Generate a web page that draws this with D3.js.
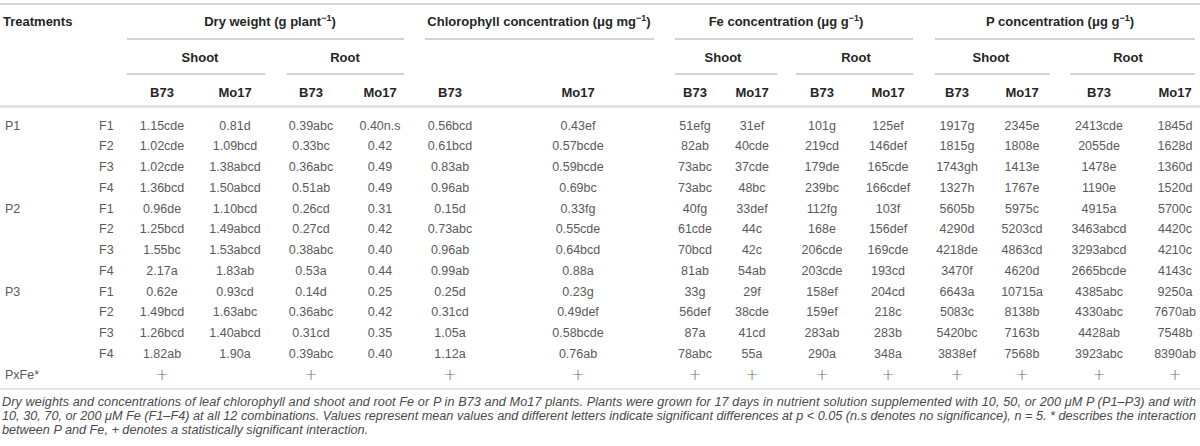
<!DOCTYPE html>
<html>
<head>
<meta charset="utf-8">
<script src="https://cdn.jsdelivr.net/npm/d3@7"></script>
<style>
  html, body { margin: 0; padding: 0; background: #fff; }
  svg { display: block; }
</style>
</head>
<body>
<svg id="chart" width="1200" height="446"></svg>
<script>
// ---------------- DATA ----------------
const pLevels = ["P1", "", "", "", "P2", "", "", "", "P3", "", "", ""];
const fLevels = ["F1", "F2", "F3", "F4", "F1", "F2", "F3", "F4", "F1", "F2", "F3", "F4"];

const dwShootB73 = ["1.15cde","1.02cde","1.02cde","1.36bcd","0.96de","1.25bcd","1.55bc","2.17a","0.62e","1.49bcd","1.26bcd","1.82ab"];
const dwShootMo17 = ["0.81d","1.09bcd","1.38abcd","1.50abcd","1.10bcd","1.49abcd","1.53abcd","1.83ab","0.93cd","1.63abc","1.40abcd","1.90a"];
const dwRootB73 = ["0.39abc","0.33bc","0.36abc","0.51ab","0.26cd","0.27cd","0.38abc","0.53a","0.14d","0.36abc","0.31cd","0.39abc"];
const dwRootMo17 = ["0.40n.s","0.42","0.49","0.49","0.31","0.42","0.40","0.44","0.25","0.42","0.35","0.40"];
const chlB73 = ["0.56bcd","0.61bcd","0.83ab","0.96ab","0.15d","0.73abc","0.96ab","0.99ab","0.25d","0.31cd","1.05a","1.12a"];
const chlMo17 = ["0.43ef","0.57bcde","0.59bcde","0.69bc","0.33fg","0.55cde","0.64bcd","0.88a","0.23g","0.49def","0.58bcde","0.76ab"];
const feShootB73 = ["51efg","82ab","73abc","73abc","40fg","61cde","70bcd","81ab","33g","56def","87a","78abc"];
const feShootMo17 = ["31ef","40cde","37cde","48bc","33def","44c","42c","54ab","29f","38cde","41cd","55a"];
const feRootB73 = ["101g","219cd","179de","239bc","112fg","168e","206cde","203cde","158ef","159ef","283ab","290a"];
const feRootMo17 = ["125ef","146def","165cde","166cdef","103f","156def","169cde","193cd","204cd","218c","283b","348a"];
const pShootB73 = ["1917g","1815g","1743gh","1327h","5605b","4290d","4218de","3470f","6643a","5083c","5420bc","3838ef"];
const pShootMo17 = ["2345e","1808e","1413e","1767e","5975c","5203cd","4863cd","4620d","10715a","8138b","7163b","7568b"];
const pRootB73 = ["2413cde","2055de","1478e","1190e","4915a","3463abcd","3293abcd","2665bcde","4385abc","4330abc","4428ab","3923abc"];
const pRootMo17 = ["1845d","1628d","1360d","1520d","5700c","4420c","4210c","4143c","9250a","7670ab","7548b","8390ab"];

const interactionRow = ["+", "", "+", "", "+", "+", "+", "+", "+", "+", "+", "+", "+", "+"];

const columnKeys = ["dwSB","dwSM","dwRB","dwRM","chlB","chlM","feSB","feSM","feRB","feRM","pSB","pSM","pRB","pRM"];
const genotypeLabels = ["B73","Mo17","B73","Mo17","B73","Mo17","B73","Mo17","B73","Mo17","B73","Mo17","B73","Mo17"];
const columns = [dwShootB73, dwShootMo17, dwRootB73, dwRootMo17, chlB73, chlMo17,
                 feShootB73, feShootMo17, feRootB73, feRootMo17, pShootB73, pShootMo17, pRootB73, pRootMo17];

const groupTitles = [
  {key:"dw", text:"Dry weight (g plant", sup:"−1", after:")"},
  {key:"chl", text:"Chlorophyll concentration (μg mg", sup:"−1", after:")"},
  {key:"fe", text:"Fe concentration (μg g", sup:"−1", after:")"},
  {key:"p", text:"P concentration (μg g", sup:"−1", after:")"}
];
const organTitles = [
  {key:"dwS", text:"Shoot"}, {key:"dwR", text:"Root"},
  {key:"feS", text:"Shoot"}, {key:"feR", text:"Root"},
  {key:"pS", text:"Shoot"}, {key:"pR", text:"Root"}
];
const captionLines = [
  "Dry weights and concentrations of leaf chlorophyll and shoot and root Fe or P in B73 and Mo17 plants. Plants were grown for 17 days in nutrient solution supplemented with 10, 50, or 200 μM P (P1–P3) and with",
  "10, 30, 70, or 200 μM Fe (F1–F4) at all 12 combinations. Values represent mean values and different letters indicate significant differences at p < 0.05 (n.s denotes no significance), n = 5. * describes the interaction",
  "between P and Fe, + denotes a statistically significant interaction."
];

// ---------------- LAYOUT ----------------
const colCenters = [162, 235, 311, 380, 450, 578, 695, 752, 822, 888, 957, 1022, 1099, 1175];
const groupLayout = {dw:{c:270, x0:127, x1:404}, chl:{c:539, x0:425, x1:654}, fe:{c:786, x0:675, x1:913}, p:{c:1060, x0:935, x1:1195}};
const organLayout = {dwS:{c:200,x0:127,x1:265}, dwR:{c:345,x0:287,x1:404}, feS:{c:723,x0:675,x1:777},
                     feR:{c:856,x0:796,x1:913}, pS:{c:991,x0:935,x1:1050}, pR:{c:1128,x0:1070,x1:1195}};

const FONT = "'Liberation Sans', Arial, Helvetica, sans-serif";
const svg = d3.select("#chart");

const x = d3.scaleOrdinal(columnKeys, colCenters);
const rowKeys = d3.range(13);
const y = d3.scalePoint(rowKeys, [125, 374]);

// rules
const rule = (y0, x0, x1, color, w) => svg.append("line")
  .attr("x1", x0).attr("x2", x1).attr("y1", y0).attr("y2", y0)
  .attr("stroke", color).attr("stroke-width", w);
rule(4, 0, 1200, "#d6d6d6", 2);
rule(106.5, 0, 1200, "#e2e2e2", 3);
rule(389, 0, 1200, "#dcdcdc", 1.5);

// header
const hdr = svg.append("g").attr("font-family", FONT).attr("font-weight", "bold")
  .attr("fill", "#262626").attr("font-size", 13);
hdr.append("text").attr("x", 3).attr("y", 25.5).text("Treatments");

const gt = hdr.selectAll("text.group").data(groupTitles).join("text")
  .attr("class", "group")
  .attr("x", d => groupLayout[d.key].c).attr("y", 25.5).attr("text-anchor", "middle");
gt.append("tspan").text(d => d.text);
gt.append("tspan").attr("dy", -5).attr("font-size", 9).text(d => d.sup);
gt.append("tspan").attr("dy", 5).text(d => d.after);

groupTitles.forEach(d => {
  const g = groupLayout[d.key];
  rule(39, g.x0, g.x1, "#a8a8a8", 1);
});

hdr.selectAll("text.organ").data(organTitles).join("text")
  .attr("class", "organ")
  .attr("x", d => organLayout[d.key].c).attr("y", 61.5).attr("text-anchor", "middle")
  .text(d => d.text);
organTitles.forEach(d => {
  const o = organLayout[d.key];
  rule(74, o.x0, o.x1, "#a8a8a8", 1);
});

hdr.selectAll("text.geno").data(genotypeLabels).join("text")
  .attr("class", "geno")
  .attr("x", (d, i) => x(columnKeys[i])).attr("y", 96.5).attr("text-anchor", "middle")
  .text(d => d);

// body
const body = svg.append("g").attr("font-family", FONT).attr("fill", "#5a5a5a").attr("font-size", 12.5);
body.selectAll("text.p").data(pLevels).join("text")
  .attr("class", "p").attr("x", 5).attr("y", (d, i) => y(i) + 4.5).text(d => d);
body.selectAll("text.f").data(fLevels).join("text")
  .attr("class", "f").attr("x", 99).attr("y", (d, i) => y(i) + 4.5).text(d => d);

columns.forEach((col, ci) => {
  body.selectAll("text.c" + ci).data(col).join("text")
    .attr("class", "c" + ci)
    .attr("x", x(columnKeys[ci])).attr("y", (d, i) => y(i) + 4.5)
    .attr("text-anchor", "middle").text(d => d);
});

body.append("text").attr("x", 5).attr("y", y(12) + 4.5).text("PxFe*");
body.selectAll("text.plus").data(interactionRow).join("text")
  .attr("class", "plus")
  .attr("x", (d, i) => x(columnKeys[i])).attr("y", y(12) + 5.5)
  .attr("text-anchor", "middle").attr("font-size", 15).attr("fill", "#6a6a6a")
  .attr("font-family", "'DejaVu Sans', sans-serif").attr("font-weight", 200)
  .text(d => d);

// caption
const cap = svg.append("g").attr("font-family", FONT).attr("font-style", "italic")
  .attr("fill", "#4a4a4a").attr("font-size", 11);
const capTexts = cap.selectAll("text").data(captionLines).join("text")
  .attr("x", 2).attr("y", (d, i) => 406 + i * 14).text(d => d);
const lens = capTexts.nodes().map(n => n.getComputedTextLength());
const fs = 11 * 1194 / Math.max(lens[0], lens[1]);
cap.attr("font-size", fs);
capTexts.filter((d, i) => i < 2)
  .attr("textLength", 1194).attr("lengthAdjust", "spacing");
</script>
</body>
</html>
